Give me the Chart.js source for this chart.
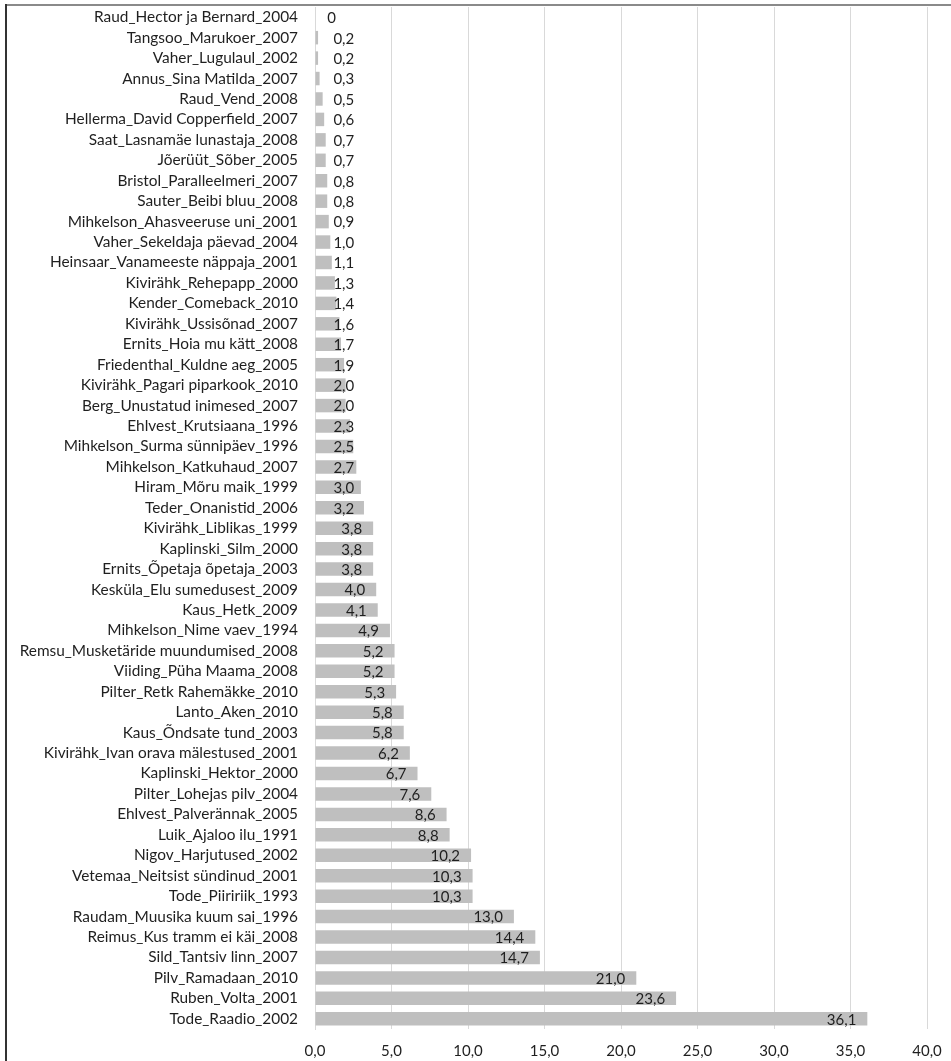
<!DOCTYPE html>
<html>
<head>
<meta charset="utf-8">
<script src="https://cdn.jsdelivr.net/npm/chart.js@4/dist/chart.umd.min.js"></script>
<style>
  html, body { margin: 0; padding: 0; background: #fff; }
  #wrap { width: 951px; height: 1061px; position: relative; }
</style>
</head>
<body>
<div id="wrap"><canvas id="chart" width="951" height="1061"></canvas></div>
<script>
// Data
const titles = [
  'Raud_Hector ja Bernard_2004', 'Tangsoo_Marukoer_2007', 'Vaher_Lugulaul_2002', 'Annus_Sina Matilda_2007',
  'Raud_Vend_2008', 'Hellerma_David Copperfield_2007', 'Saat_Lasnamäe lunastaja_2008', 'Jõerüüt_Sõber_2005',
  'Bristol_Paralleelmeri_2007', 'Sauter_Beibi bluu_2008', 'Mihkelson_Ahasveeruse uni_2001', 'Vaher_Sekeldaja päevad_2004',
  'Heinsaar_Vanameeste näppaja_2001', 'Kivirähk_Rehepapp_2000', 'Kender_Comeback_2010', 'Kivirähk_Ussisõnad_2007',
  'Ernits_Hoia mu kätt_2008', 'Friedenthal_Kuldne aeg_2005', 'Kivirähk_Pagari piparkook_2010', 'Berg_Unustatud inimesed_2007',
  'Ehlvest_Krutsiaana_1996', 'Mihkelson_Surma sünnipäev_1996', 'Mihkelson_Katkuhaud_2007', 'Hiram_Mõru maik_1999',
  'Teder_Onanistid_2006', 'Kivirähk_Liblikas_1999', 'Kaplinski_Silm_2000', 'Ernits_Õpetaja õpetaja_2003',
  'Kesküla_Elu sumedusest_2009', 'Kaus_Hetk_2009', 'Mihkelson_Nime vaev_1994', 'Remsu_Musketäride muundumised_2008',
  'Viiding_Püha Maama_2008', 'Pilter_Retk Rahemäkke_2010', 'Lanto_Aken_2010', 'Kaus_Õndsate tund_2003',
  'Kivirähk_Ivan orava mälestused_2001', 'Kaplinski_Hektor_2000', 'Pilter_Lohejas pilv_2004', 'Ehlvest_Palverännak_2005',
  'Luik_Ajaloo ilu_1991', 'Nigov_Harjutused_2002', 'Vetemaa_Neitsist sündinud_2001', 'Tode_Piiririik_1993',
  'Raudam_Muusika kuum sai_1996', 'Reimus_Kus tramm ei käi_2008', 'Sild_Tantsiv linn_2007', 'Pilv_Ramadaan_2010',
  'Ruben_Volta_2001', 'Tode_Raadio_2002'
];
const values = [
  0, 0.2, 0.2, 0.3, 0.5, 0.6, 0.7, 0.7, 0.8, 0.8,
  0.9, 1.0, 1.1, 1.3, 1.4, 1.6, 1.7, 1.9, 2.0, 2.0,
  2.3, 2.5, 2.7, 3.0, 3.2, 3.8, 3.8, 3.8, 4.0, 4.1,
  4.9, 5.2, 5.2, 5.3, 5.8, 5.8, 6.2, 6.7, 7.6, 8.6,
  8.8, 10.2, 10.3, 10.3, 13.0, 14.4, 14.7, 21.0, 23.6, 36.1
];
const xMin = 0, xMax = 40, xStep = 5;

const FONT = 'Lato, "Open Sans", sans-serif';

function fmt(v, zeroPlain) {
  if (zeroPlain && v === 0) return '0';
  return v.toFixed(1).replace('.', ',');
}

// Frame lines (top grey, left dark)
const framePlugin = {
  id: 'frame',
  beforeDraw(chart) {
    const ctx = chart.ctx;
    ctx.save();
    ctx.fillStyle = '#fff';
    ctx.fillRect(0, 0, chart.width, chart.height);
    ctx.fillStyle = '#8a8a8a';
    ctx.fillRect(5, 4, chart.width - 5, 2);
    ctx.fillStyle = '#333';
    ctx.fillRect(5, 4, 2, chart.height - 4);
    ctx.restore();
  }
};

// Value labels near the end of each bar
const valueLabels = {
  id: 'valueLabels',
  afterDatasetsDraw(chart) {
    const ctx = chart.ctx;
    const meta = chart.getDatasetMeta(0);
    const zero = chart.scales.x.getPixelForValue(0);
    ctx.save();
    ctx.font = '15px ' + FONT;
    ctx.fillStyle = '#1f1f1f';
    ctx.textBaseline = 'middle';
    ctx.textAlign = 'left';
    meta.data.forEach((bar, i) => {
      const txt = fmt(values[i], true);
      const w = ctx.measureText(txt).width;
      const left = Math.max(bar.x - 11 - w, zero + 8 + w / 2);
      ctx.fillText(txt, left, bar.y + 1);
    });
    ctx.restore();
  }
};

new Chart(document.getElementById('chart'), {
  type: 'bar',
  data: {
    labels: titles,
    datasets: [{
      data: values,
      backgroundColor: '#bfbfbf',
      borderWidth: 0,
      barPercentage: 0.66,
      categoryPercentage: 1
    }]
  },
  options: {
    indexAxis: 'y',
    responsive: false,
    animation: false,
    layout: { padding: { top: 7, right: 24, left: 0, bottom: 0 } },
    plugins: {
      legend: { display: false },
      tooltip: { enabled: false }
    },
    scales: {
      x: {
        min: xMin,
        max: xMax,
        ticks: {
          stepSize: xStep,
          padding: 13,
          color: '#1f1f1f',
          font: { family: FONT, size: 15 },
          callback: v => fmt(v, false)
        },
        grid: { color: '#d9d9d9', lineWidth: 1, drawTicks: false },
        border: { display: false },
        afterFit(s) {
          s.height = 32;
          s.paddingLeft = 0;
          s.paddingRight = 0;
        }
      },
      y: {
        ticks: {
          autoSkip: false,
          padding: 17,
          color: '#1f1f1f',
          font: { family: FONT, size: 15.4 }
        },
        grid: { display: false, drawTicks: false },
        border: { display: true, color: '#d9d9d9', width: 1 },
        afterFit(s) {
          s.width = 315;
          s.paddingTop = 0;
          s.paddingBottom = 0;
        }
      }
    }
  },
  plugins: [framePlugin, valueLabels]
});
</script>
</body>
</html>
